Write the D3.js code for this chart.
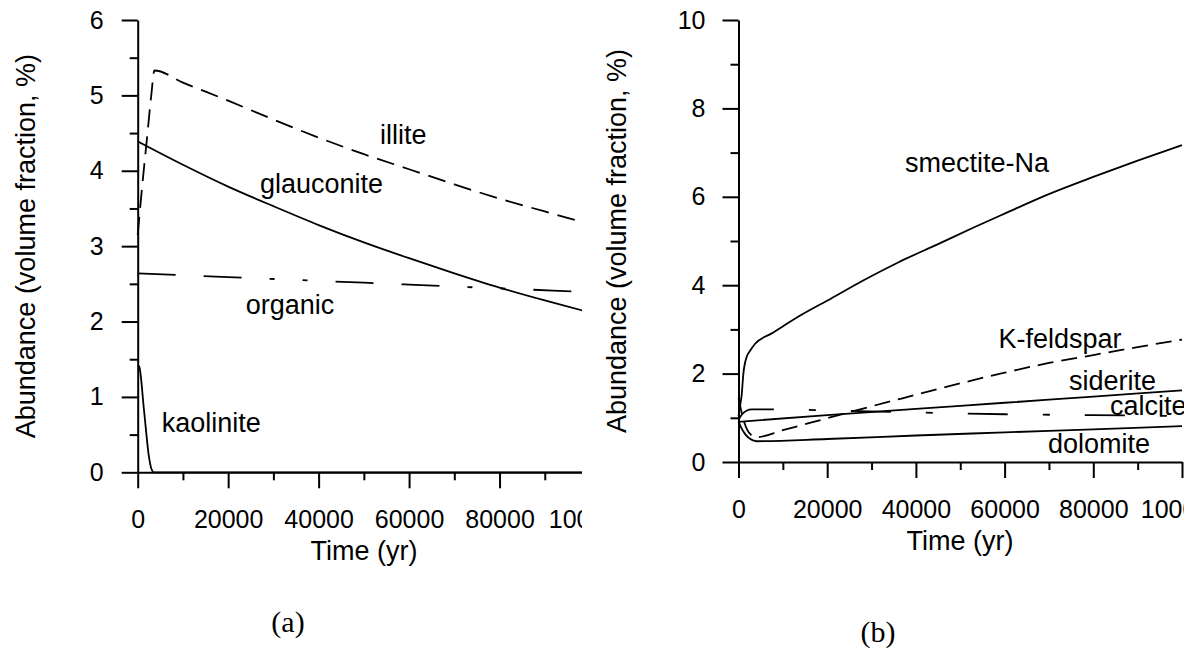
<!DOCTYPE html>
<html><head><meta charset="utf-8">
<script src="https://cdn.jsdelivr.net/npm/d3@7"></script>
<style>
body{margin:0;background:#fff}
svg{display:block}
text{font-family:"Liberation Sans",Arial,Helvetica,sans-serif;fill:#000}
</style>
</head><body>
<svg id="chart" width="1184" height="650"></svg>
<script>
// ---------- Shared axis ticks ----------
const xTickValues = [0, 20000, 40000, 60000, 80000, 100000];
const xMinorValues = [10000, 30000, 50000, 70000, 90000];
const yTicksA = [0, 1, 2, 3, 4, 5, 6];
const yMinorA = [0.5, 1.5, 2.5, 3.5, 4.5, 5.5];
const yTicksB = [0, 2, 4, 6, 8, 10];
const yMinorB = [1, 3, 5, 7, 9];

// ---------- Panel (a) series ----------
const illiteT = [0, 1000, 2000, 3000, 3700, 10000, 20000, 30000, 40000, 50000, 60000, 70000, 80000, 90000, 100000];
const illiteV = [3.15, 3.8, 4.4, 5.0, 5.33, 5.17, 4.93, 4.68, 4.44, 4.22, 4.02, 3.82, 3.63, 3.46, 3.29];
const glauconiteT = [0, 10000, 20000, 30000, 40000, 50000, 60000, 70000, 80000, 90000, 100000];
const glauconiteV = [4.39, 4.08, 3.79, 3.53, 3.28, 3.05, 2.84, 2.64, 2.45, 2.28, 2.12];
const organicT = [0, 20000, 40000, 60000, 80000, 100000];
const organicV = [2.64, 2.59, 2.54, 2.49, 2.44, 2.39];
const kaoliniteT = [0, 350, 1400, 2500, 3000, 3600, 10000, 100000];
const kaoliniteV = [1.42, 1.40, 0.82, 0.2, 0.05, 0, 0, 0];

// ---------- Panel (b) series ----------
const smectiteT = [0, 400, 700, 1100, 1850, 2500, 3700, 7500, 14200, 20900, 28000, 36100, 45000, 52900, 60000, 69700, 80000, 90000, 100000];
const smectiteV = [1.05, 1.3, 1.5, 2.0, 2.38, 2.5, 2.67, 2.91, 3.33, 3.70, 4.1, 4.52, 4.93, 5.3, 5.62, 6.05, 6.45, 6.82, 7.17];
const kfeldsparT = [0, 1000, 2000, 3000, 4000, 10000, 20000, 30000, 40000, 50000, 60000, 70000, 80000, 90000, 100000];
const kfeldsparV = [1.45, 1.0, 0.72, 0.6, 0.56, 0.72, 0.99, 1.26, 1.52, 1.78, 2.02, 2.24, 2.42, 2.6, 2.77];
const sideriteT = [0, 20000, 40000, 60000, 80000, 100000];
const sideriteV = [0.91, 1.06, 1.2, 1.34, 1.48, 1.62];
const calciteT = [0, 800, 1800, 3000, 5000, 20000, 40000, 60000, 80000, 100000];
const calciteV = [0.95, 1.08, 1.16, 1.19, 1.19, 1.17, 1.12, 1.08, 1.06, 1.04];
const dolomiteT = [0, 500, 1500, 2500, 4000, 20000, 40000, 60000, 80000, 100000];
const dolomiteV = [0.92, 0.8, 0.63, 0.53, 0.47, 0.52, 0.6, 0.67, 0.74, 0.81];

// Labels (anchored in data units: [time, abundance])
const labelsA = [
  {text: "illite", t: 53570, v: 4.355},
  {text: "glauconite", t: 27040, v: 3.705},
  {text: "organic", t: 23870, v: 2.10},
  {text: "kaolinite", t: 5306, v: 0.539}
];
const labelsB = [
  {text: "smectite-Na", t: 37540, v: 6.57},
  {text: "K-feldspar", t: 58620, v: 2.57},
  {text: "siderite", t: 74520, v: 1.63},
  {text: "calcite", t: 83770, v: 1.063},
  {text: "dolomite", t: 69790, v: 0.204}
];

const zip = (T, V) => T.map((t, i) => [t, V[i]]);

const svg = d3.select("#chart");

function drawPanel(cfg) {
  const id = cfg.id;
  svg.append("clipPath").attr("id", "clip" + id)
    .append("rect").attr("x", cfg.clipLeft).attr("y", 0)
    .attr("width", cfg.clipRight - cfg.clipLeft).attr("height", 650);
  const g = svg.append("g").attr("clip-path", `url(#clip${id})`);

  const x = d3.scaleLinear().domain([0, 100000]).range([cfg.x0, cfg.x1]);
  const y = d3.scaleLinear().domain(cfg.yDomain).range([cfg.yBottom, cfg.yTop]);

  // series
  const line = d3.line().x(d => x(d[0])).y(d => y(d[1])).curve(d3.curveMonotoneX);
  cfg.series.forEach(s => {
    g.append("path").datum(zip(s.T, s.V))
      .attr("d", line).attr("fill", "none").attr("stroke", "#000")
      .attr("stroke-width", 1.8)
      .attr("stroke-dasharray", s.dash || null);
  });

  // axes
  const styleAxis = sel => {
    sel.attr("font-family", null).attr("font-size", null);
    sel.selectAll("path,line").attr("stroke", "#000").attr("stroke-width", 2);
    sel.selectAll("text").style("font-size", "25px").attr("fill", "#000");
  };
  g.append("g").attr("transform", `translate(0,${cfg.yBottom})`)
    .call(d3.axisBottom(x).tickValues(xMinorValues).tickSize(8).tickFormat(""))
    .call(a => { a.select(".domain").remove(); styleAxis(a); });
  g.append("g").attr("transform", `translate(0,${cfg.yBottom})`)
    .call(d3.axisBottom(x).tickValues(xTickValues).tickSize(16).tickSizeOuter(0)
      .tickPadding(22).tickFormat(d3.format("d")))
    .call(styleAxis);
  g.append("g").attr("transform", `translate(${cfg.x0},0)`)
    .call(d3.axisLeft(y).tickValues(cfg.yMinor).tickSize(8).tickFormat(""))
    .call(a => { a.select(".domain").remove(); styleAxis(a); });
  g.append("g").attr("transform", `translate(${cfg.x0},0)`)
    .call(d3.axisLeft(y).tickValues(cfg.yTicks).tickSize(16).tickSizeOuter(0)
      .tickPadding(cfg.yPad).tickFormat(d3.format("d")))
    .call(styleAxis);

  // curve labels
  cfg.labels.forEach(l => {
    g.append("text").attr("x", x(l.t)).attr("y", y(l.v))
      .style("font-size", "27px").text(l.text);
  });

  // axis titles
  svg.append("text")
    .attr("transform", `translate(${cfg.yTitleX},${(cfg.yTop + cfg.yBottom) / 2}) rotate(-90)`)
    .attr("text-anchor", "middle").style("font-size", "27px")
    .text("Abundance (volume fraction, %)");
  svg.append("text")
    .attr("x", cfg.xTitleX).attr("y", cfg.xTitleY)
    .attr("text-anchor", "middle").style("font-size", "27px")
    .text("Time (yr)");
  svg.append("text")
    .attr("x", cfg.capX).attr("y", cfg.capY)
    .attr("text-anchor", "middle")
    .style("font-family", "'Liberation Serif','Times New Roman',serif")
    .style("font-size", "30px")
    .text(cfg.caption);
}

drawPanel({
  id: "A", x0: 137.7, x1: 590, yBottom: 472.3, yTop: 20, yDomain: [0, 6],
  clipLeft: 0, clipRight: 582,
  yTicks: yTicksA, yMinor: yMinorA, yPad: 18,
  series: [
    {T: illiteT, V: illiteV, dash: "18,9"},
    {T: glauconiteT, V: glauconiteV},
    {T: organicT, V: organicV, dash: "38,28,38,28,5,28,5,28"},
    {T: kaoliniteT, V: kaoliniteV}
  ],
  labels: labelsA,
  yTitleX: 35, xTitleX: 363.9, xTitleY: 560, capX: 288, capY: 632, caption: "(a)"
});

drawPanel({
  id: "B", x0: 738.5, x1: 1182, yBottom: 462, yTop: 20, yDomain: [0, 10],
  clipLeft: 590, clipRight: 1184,
  yTicks: yTicksB, yMinor: yMinorB, yPad: 17,
  series: [
    {T: smectiteT, V: smectiteV},
    {T: kfeldsparT, V: kfeldsparV, dash: "16,8"},
    {T: sideriteT, V: sideriteV},
    {T: calciteT, V: calciteV, dash: "40,35,7,35"},
    {T: dolomiteT, V: dolomiteV}
  ],
  labels: labelsB,
  yTitleX: 626, xTitleX: 960, xTitleY: 550, capX: 878, capY: 642, caption: "(b)"
});
</script>
</body></html>
